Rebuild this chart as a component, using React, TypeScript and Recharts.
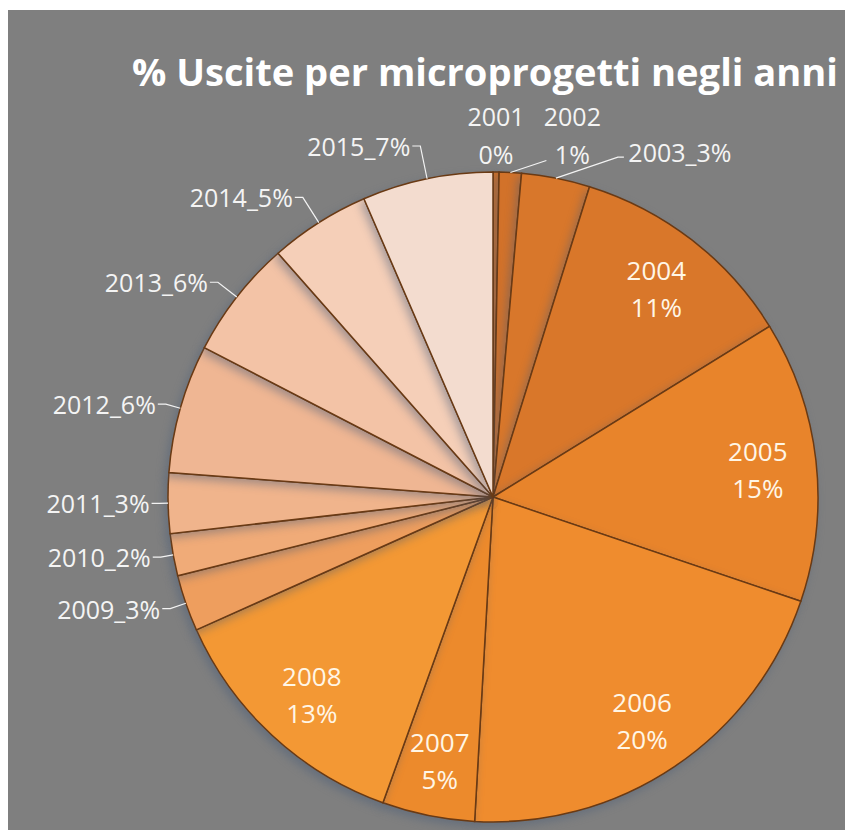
import { Cell, Pie, PieChart } from 'recharts';

const years = ['2001', '2002', '2003', '2004', '2005', '2006', '2007', '2008', '2009', '2010', '2011', '2012', '2013', '2014', '2015'];
const shares = [0.3, 1.1, 3.4, 11.4, 14.0, 20.7, 4.6, 12.8, 2.8, 2.1, 3.0, 6.4, 5.9, 5.0, 6.5];
const pctLabels = ['0%', '1%', '3%', '11%', '15%', '20%', '5%', '13%', '3%', '2%', '3%', '6%', '6%', '5%', '7%'];
const sliceColors = [
  '#cf6f26', '#d2722a', '#d8772b', '#d9772a', '#e8842b', '#ef8c2e', '#ec8a2c', '#f39834',
  '#ee9e5e', '#f0ab78', '#f0b48c', '#efb693', '#f3c3a6', '#f5cfb8', '#f3dccf',
];
// slices drawn with the year + % inside
const insideYears = ['2004', '2005', '2006', '2007', '2008'];
// small slices at the top whose label sits above the pie
const topYears = ['2001', '2002', '2003'];
const twoLineYears = ['2001', '2002', '2004', '2005', '2006', '2007', '2008'];

const data = years.map((y, i) => ({ year: y, value: shares[i], pct: pctLabels[i] }));

const RAD = Math.PI / 180;
const FONT = '"Open Sans", sans-serif';
const TEXT = '#f4f4f4';

function SliceLabel(props: any) {
  const { cx, cy, midAngle, outerRadius, index } = props;
  const d = data[index];
  const cos = Math.cos(-midAngle * RAD);
  const sin = Math.sin(-midAngle * RAD);
  const ex = cx + outerRadius * cos;
  const ey = cy + outerRadius * sin;

  if (insideYears.includes(d.year)) {
    const r = outerRadius * 0.82;
    const x = cx + r * cos;
    const y = cy + r * sin;
    return (
      <text x={x} y={y} fill="#fff6e6" fontSize={26} fontFamily={FONT} textAnchor="middle">
        <tspan x={x} dy={-6}>{d.year}</tspan>
        <tspan x={x} dy={37}>{d.pct}</tspan>
      </text>
    );
  }

  if (topYears.includes(d.year)) {
    const tx = ex + index * 62;
    if (twoLineYears.includes(d.year)) {
      return (
        <g>
          {index > 0 && (
            <polyline points={`${ex},${ey} ${tx - 26},${ey - 12}`} fill="none" stroke={TEXT} strokeWidth={1.2} />
          )}
          <text x={tx} y={ey - 46} fill={TEXT} fontSize={25} fontFamily={FONT} textAnchor="middle">
            <tspan x={tx}>{d.year}</tspan>
            <tspan x={tx} dy={38}>{d.pct}</tspan>
          </text>
        </g>
      );
    }
    return (
      <g>
        <polyline points={`${ex},${ey} ${tx - 62},${ey - 21} ${tx - 56},${ey - 21}`} fill="none" stroke={TEXT} strokeWidth={1.2} />
        <text x={tx} y={ey - 16} fill={TEXT} fontSize={25} fontFamily={FONT} textAnchor="middle">
          {`${d.year}_${d.pct}`}
        </text>
      </g>
    );
  }

  // outside labels on the left
  const fromTop = Math.abs(Math.sin(midAngle * RAD));
  const off = 8 + 26 * fromTop;
  const px = cx + (outerRadius + off) * cos;
  const py = cy + (outerRadius + off) * sin;
  return (
    <g>
      <polyline points={`${ex},${ey} ${px},${py} ${px - 8},${py}`} fill="none" stroke={TEXT} strokeWidth={1.2} />
      <text x={px - 10} y={py} fill={TEXT} fontSize={25} fontFamily={FONT} textAnchor="end" dominantBaseline="central">
        {`${d.year}_${d.pct}`}
      </text>
    </g>
  );
}

export default function App() {
  return (
    <div
      style={{
        position: 'absolute',
        left: 8,
        top: 10,
        width: 837,
        height: 820,
        background: '#7f7f7f',
        overflow: 'hidden',
      }}
    >
      <style>{`.recharts-pie-sector { filter: drop-shadow(-3px 4px 5px rgba(70, 90, 120, 0.45)); }`}</style>
      <PieChart width={837} height={820}>
        <text
          x={124}
          y={76}
          fill="#ffffff"
          fontSize={38}
          fontWeight="bold"
          fontFamily={FONT}
          textLength={706}
          lengthAdjust="spacingAndGlyphs"
        >
          % Uscite per microprogetti negli anni
        </text>
        <Pie
          data={data}
          dataKey="value"
          nameKey="year"
          cx={480}
          cy={482}
          outerRadius={325}
          startAngle={90}
          endAngle={-270}
          stroke="#6a3a14"
          strokeWidth={1.5}
          label={SliceLabel}
          labelLine={false}
          isAnimationActive={false}
        >
          {data.map((d, i) => (
            <Cell key={d.year} fill={sliceColors[i]} />
          ))}
        </Pie>
      </PieChart>
    </div>
  );
}
